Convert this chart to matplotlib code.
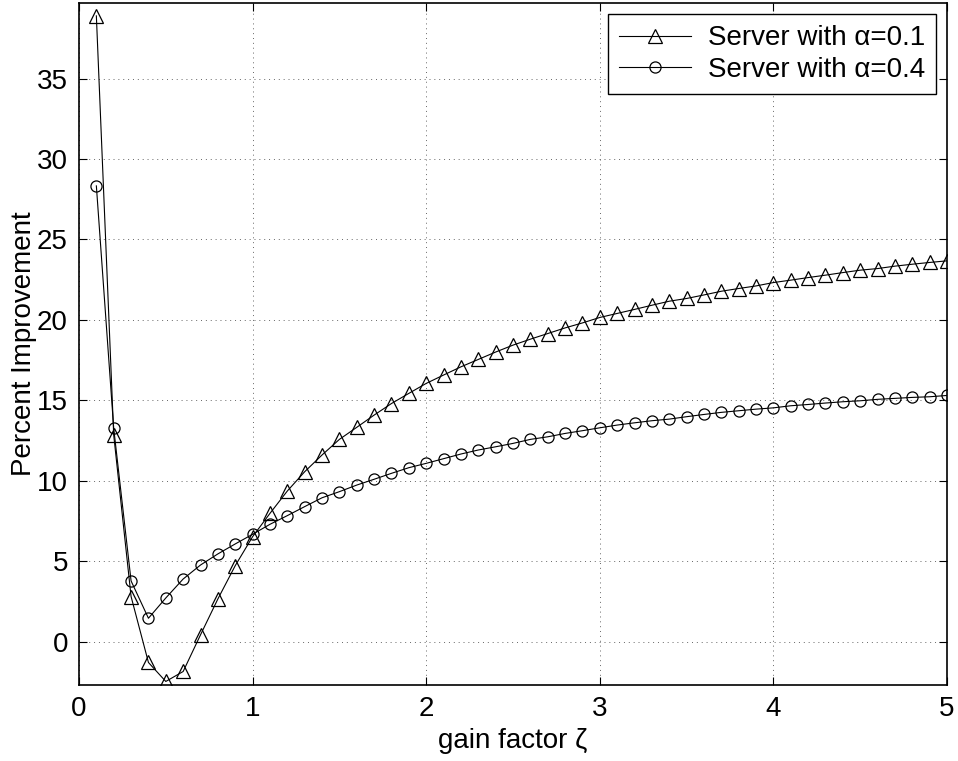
import numpy as np
import matplotlib.pyplot as plt

plt.rcParams['font.family'] = ['Liberation Sans', 'DejaVu Sans']

# gain factor values
zeta = np.round(np.arange(1, 51) * 0.1, 1)

# Server with alpha = 0.1
imp_a01 = [38.9, 12.84, 2.8, -1.3, -2.48, -1.86, 0.42, 2.65, 4.72, 6.52,
           7.97, 9.36, 10.56, 11.6, 12.57, 13.32, 14.08, 14.8, 15.43, 16.05,
           16.57, 17.08, 17.54, 18.0, 18.43, 18.8, 19.15, 19.5, 19.81, 20.15,
           20.4, 20.65, 20.91, 21.16, 21.33, 21.55, 21.78, 21.95, 22.11, 22.32,
           22.47, 22.63, 22.78, 22.94, 23.09, 23.19, 23.34, 23.46, 23.57, 23.67]

# Server with alpha = 0.4
imp_a04 = [28.33, 13.25, 3.77, 1.45, 2.71, 3.89, 4.76, 5.45, 6.07, 6.67,
           7.29, 7.83, 8.39, 8.94, 9.32, 9.73, 10.09, 10.46, 10.81, 11.08,
           11.37, 11.66, 11.91, 12.11, 12.32, 12.57, 12.73, 12.94, 13.11, 13.29,
           13.46, 13.6, 13.73, 13.83, 13.98, 14.12, 14.25, 14.35, 14.45, 14.53,
           14.66, 14.74, 14.83, 14.91, 14.97, 15.06, 15.12, 15.18, 15.22, 15.3]

fig = plt.figure(figsize=(9.58, 7.61), dpi=100)
ax = fig.add_axes([79 / 958, 76 / 761, 868 / 958, 682 / 761])

ax.plot(zeta, imp_a01, color='black', lw=0.8, marker='^', ms=9.5,
        mfc='none', mec='black', mew=0.9, label='Server with α=0.1')
ax.plot(zeta, imp_a04, color='black', lw=0.8, marker='o', ms=8,
        mfc='none', mec='black', mew=0.9, label='Server with α=0.4')

ax.set_xlim(0, 5)
ax.set_ylim(-2.7, 39.7)
ax.set_xticks(range(0, 6))
ax.set_yticks(range(0, 36, 5))
ax.tick_params(direction='in', length=6, width=0.8, labelsize=20,
               top=True, right=True, pad=8)
ax.grid(True, linestyle=(0, (1, 4)), color='black', lw=0.7, alpha=0.6)
for s in ax.spines.values():
    s.set_linewidth(1.2)

ax.set_xlabel('gain factor ζ', fontsize=20, labelpad=4)
ax.set_ylabel('Percent Improvement', fontsize=20, labelpad=0)

leg = ax.legend(loc='upper right', fontsize=20, fancybox=False, framealpha=1,
                edgecolor='black', borderaxespad=0.4, handlelength=2.6,
                handletextpad=0.6, borderpad=0.4, labelspacing=0.2)
leg.get_frame().set_linewidth(1.0)

fig.savefig('out.png', dpi=100)
